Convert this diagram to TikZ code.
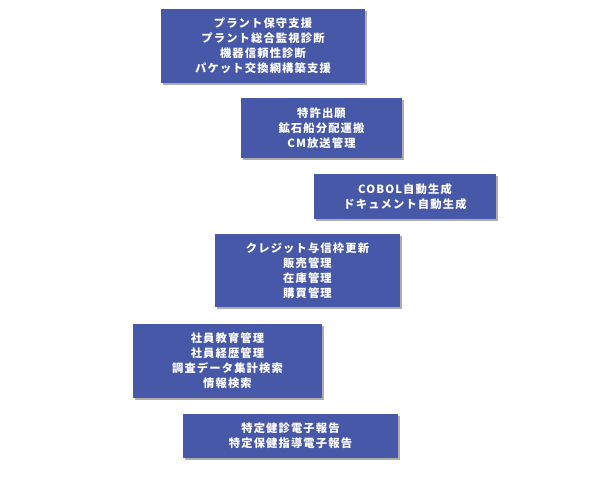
\documentclass[tikz,border=0pt]{standalone}
\usepackage{fontspec}
\newfontfamily\jpfont[LetterSpace=10]{Noto Sans CJK JP}
\usetikzlibrary{shadows}

\definecolor{boxblue}{RGB}{72,88,168}

\tikzset{
    % blue box with white text and grey shadow
    task/.style={fill=boxblue, text=white, align=center,
        font=\jpfont\bfseries\fontsize{11.3}{15}\selectfont,
        drop shadow={shadow xshift=2pt, shadow yshift=-2pt, fill=black!45, opacity=.7},
        inner sep=0pt}
}

\begin{document}
\begin{tikzpicture}[x=1pt, y=-1pt]
        % fix the page size
        \useasboundingbox (0,0) rectangle (600,480);
        % plant maintenance
        \node[task, minimum width=204pt, minimum height=74pt] (plant) at (263,46)
            {プラント保守支援\\プラント総合監視診断\\機器信頼性診断\\パケット交換網構築支援};
        % patents and shipping
        \node[task, minimum width=161pt, minimum height=60pt] (patent) at (321.5,128)
            {特許出願\\鉱石船分配運搬\\CM放送管理};
        % code generation
        \node[task, minimum width=182pt, minimum height=45pt] (cobol) at (405,196.5)
            {COBOL自動生成\\ドキュメント自動生成};
        % sales and stock
        \node[task, minimum width=185pt, minimum height=73pt] (sales) at (307.5,270.5)
            {クレジット与信枠更新\\販売管理\\在庫管理\\購買管理};
        % staff and search
        \node[task, minimum width=189pt, minimum height=74pt] (staff) at (227.5,361)
            {社員教育管理\\社員経歴管理\\調査データ集計検索\\情報検索};
        % health reports
        \node[task, minimum width=215pt, minimum height=44pt] (health) at (290.5,436)
            {特定健診電子報告\\特定保健指導電子報告};
    \end{tikzpicture}
\end{document}
